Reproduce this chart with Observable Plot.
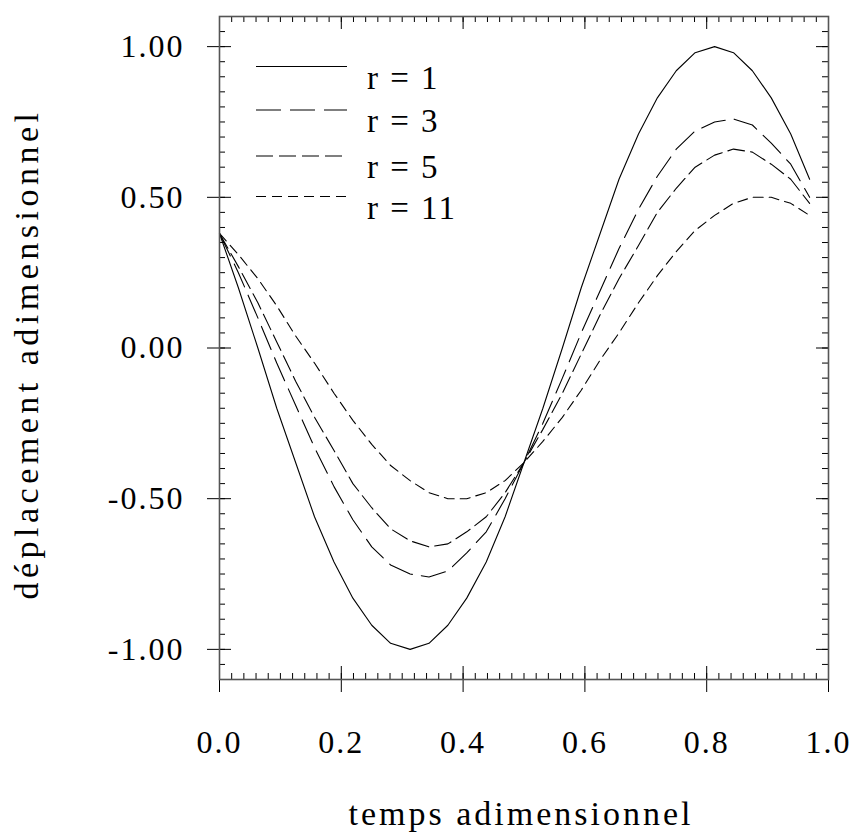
<!DOCTYPE html>
<html><head><meta charset="utf-8">
<script src="https://cdn.jsdelivr.net/npm/d3@7"></script>
<script src="https://cdn.jsdelivr.net/npm/@observablehq/plot@0.6"></script>
<style>
body{margin:0;background:#fff;}
#chart{position:relative;width:853px;height:835px;}
#chart svg text{letter-spacing:2px;}
#legend{position:absolute;left:0;top:0;}
</style></head><body><div id="chart"></div>
<script>
// temps adimensionnel (sample points)
const t = [0,0.031,0.063,0.094,0.125,0.156,0.188,0.219,0.25,0.281,0.313,0.344,0.375,0.406,0.438,0.469,
           0.5,0.531,0.563,0.594,0.625,0.656,0.688,0.719,0.75,0.781,0.813,0.844,0.875,0.906,0.938,0.969];
const r1 = [0.38,0.20,0.00,-0.20,-0.38,-0.56,-0.71,-0.83,-0.92,-0.98,-1.00,-0.98,-0.92,-0.83,-0.71,-0.56,
            -0.38,-0.20,0.00,0.20,0.38,0.56,0.71,0.83,0.92,0.98,1.00,0.98,0.92,0.83,0.71,0.56];
const r3 = [0.38,0.25,0.10,-0.05,-0.19,-0.33,-0.46,-0.57,-0.66,-0.72,-0.75,-0.76,-0.74,-0.68,-0.61,-0.50,
            -0.38,-0.25,-0.10,0.05,0.19,0.33,0.46,0.57,0.66,0.72,0.75,0.76,0.74,0.68,0.61,0.50];
const r5 = [0.38,0.27,0.15,0.02,-0.11,-0.23,-0.34,-0.45,-0.53,-0.60,-0.64,-0.66,-0.65,-0.61,-0.56,-0.48,
            -0.38,-0.27,-0.15,-0.02,0.11,0.23,0.34,0.45,0.53,0.60,0.64,0.66,0.65,0.61,0.56,0.48];
const r11 = [0.38,0.31,0.23,0.14,0.04,-0.05,-0.15,-0.24,-0.32,-0.39,-0.44,-0.48,-0.50,-0.50,-0.48,-0.44,
             -0.38,-0.31,-0.23,-0.14,-0.04,0.05,0.15,0.24,0.32,0.39,0.44,0.48,0.50,0.50,0.48,0.44];
const seriesNames = ["r = 1","r = 3","r = 5","r = 11"];
const seriesValues = [r1, r3, r5, r11];
const dashes = [null, "25,9", "17,6", "10,6"];
const xTicks = [0,0.2,0.4,0.6,0.8,1.0];
const yTicks = [-1.00,-0.50,0.00,0.50,1.00];
const xTitle = "temps adimensionnel";
const yTitle = "déplacement adimensionnel";

const W = 853, H = 835, mL = 219, mR = 25, mT = 16, mB = 156;
const fw = W - mL - mR, fh = H - mT - mB;
const xMinor = d3.range(0, 1.0001, 0.02);
const yMinor = d3.range(-1.1, 1.1001, 0.05);
const FONT = "'Liberation Serif','Times New Roman',Times,serif";

const rows = seriesNames.flatMap((s, i) => t.map((tt, k) => ({s, t: tt, y: seriesValues[i][k]})));

const lineMarks = seriesNames.map((s, i) =>
  Plot.line(rows.filter(d => d.s === s), {x: "t", y: "y", stroke: "black", strokeWidth: 1.1,
    strokeDasharray: dashes[i] || undefined}));

const chart = Plot.plot({
  width: W, height: H,
  marginLeft: mL, marginRight: mR, marginTop: mT, marginBottom: mB,
  style: {fontFamily: FONT, fontSize: "32px", background: "white", color: "black"},
  x: {domain: [0, 1]},
  y: {domain: [-1.1, 1.1]},
  marks: [
    ...lineMarks,
    Plot.tickX(xTicks, {x: d => d, insetTop: fh - 13, stroke: "black"}),
    Plot.tickX(xMinor, {x: d => d, insetTop: fh - 6, stroke: "black"}),
    Plot.tickX(xTicks, {x: d => d, insetBottom: fh - 13, stroke: "black"}),
    Plot.tickX(xMinor, {x: d => d, insetBottom: fh - 6, stroke: "black"}),
    Plot.tickY(yTicks, {y: d => d, insetRight: fw - 12, stroke: "black"}),
    Plot.tickY(yMinor, {y: d => d, insetRight: fw - 6, stroke: "black"}),
    Plot.tickY(yTicks, {y: d => d, insetLeft: fw - 12, stroke: "black"}),
    Plot.tickY(yMinor, {y: d => d, insetLeft: fw - 6, stroke: "black"}),
    Plot.axisX({ticks: xTicks, tickSize: 13, tickPadding: 38, tickFormat: d => d.toFixed(1), fontSize: 32, label: null}),
    Plot.axisY({ticks: yTicks, tickSize: 12, tickPadding: 23, tickFormat: d => d.toFixed(2), fontSize: 32, label: null}),
    Plot.frame({stroke: "#555", strokeWidth: 1.6}),
    Plot.text([xTitle], {text: d => d, frameAnchor: "bottom", textAnchor: "middle", dx: -3, dy: 145, lineAnchor: "bottom", fontSize: 34}),
    Plot.text([yTitle], {text: d => d, frameAnchor: "left", textAnchor: "middle", rotate: -90, dx: -182, dy: 6, lineAnchor: "bottom", fontSize: 34})
  ]
});
const host = document.getElementById("chart");
host.appendChild(chart);
d3.select(chart).selectAll("text").filter(function() { return this.textContent === xTitle; })
  .style("letter-spacing", "3px");
d3.select(chart).selectAll("text").filter(function() { return this.textContent === yTitle; })
  .style("letter-spacing", "4.5px");

// legend overlay
const leg = d3.select(host).append("svg").attr("id", "legend").attr("width", W).attr("height", H)
  .style("font-family", FONT);
const rowY = [66.5, 110, 156, 196.5];
seriesNames.forEach((s, i) => {
  leg.append("line").attr("x1", 256).attr("x2", 347).attr("y1", rowY[i]).attr("y2", rowY[i])
    .attr("stroke", "black").attr("stroke-width", 1.1).attr("stroke-dasharray", dashes[i]);
  leg.append("text").attr("x", 367).attr("y", rowY[i] + 22).attr("font-size", 33)
    .style("letter-spacing", "2px").text(s);
});
</script>
</body></html>
